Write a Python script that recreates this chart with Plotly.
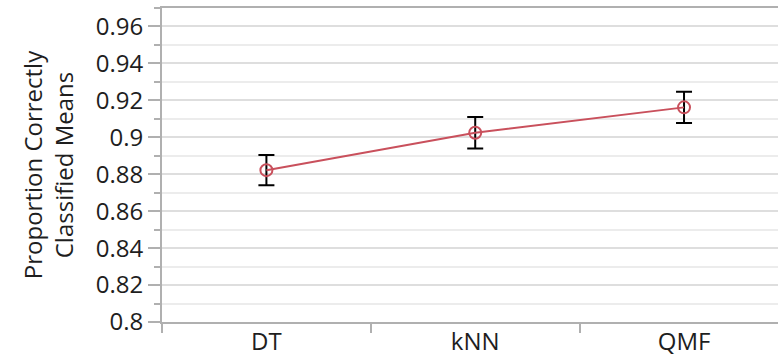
import plotly.graph_objects as go

# Mean proportion correctly classified per method, with error bar half-widths
methods = ["DT", "kNN", "QMF"]
means = [0.8822, 0.9025, 0.9162]
errors = [0.0082, 0.0085, 0.0085]
y_ticks = [0.8, 0.82, 0.84, 0.86, 0.88, 0.9, 0.92, 0.94, 0.96]
y_tick_text = ["0.8", "0.82", "0.84", "0.86", "0.88", "0.9", "0.92", "0.94", "0.96"]

RED = "#c9505c"
FONT = "Open Sans, Noto Sans, sans-serif"
TXT = "#1e1e1e"

fig = go.Figure()
fig.add_trace(go.Scatter(
    x=methods,
    y=means,
    mode="lines+markers",
    line=dict(color=RED, width=2),
    marker=dict(symbol="circle-open", size=12, color=RED, line=dict(width=2, color=RED)),
    error_y=dict(type="data", array=errors, visible=True, color="black",
                 thickness=2, width=8),
    showlegend=False,
))

fig.update_layout(
    width=778, height=358,
    margin=dict(l=162, r=0, t=8, b=36),
    paper_bgcolor="white",
    plot_bgcolor="white",
    font=dict(family=FONT, size=24, color=TXT),
    xaxis=dict(
        range=[-0.5, 2.45],
        tickmode="array", tickvals=[0, 1, 2], ticktext=methods,
        tickson="boundaries",
        ticks="outside", ticklen=9, tickwidth=2, tickcolor="#b0b0b0",
        ticklabelstandoff=-3,
        showline=True, linecolor="#b0b0b0", linewidth=2, mirror=True,
        showgrid=False, zeroline=False,
        tickfont=dict(size=24, family=FONT, color=TXT),
    ),
    yaxis=dict(
        range=[0.8, 0.97],
        tickmode="array", tickvals=y_ticks, ticktext=y_tick_text,
        ticks="outside", ticklen=12, tickwidth=2, tickcolor="#b0b0b0",
        showline=True, linecolor="#b0b0b0", linewidth=2,
        showgrid=True, gridcolor="#dedede", gridwidth=1.5,
        zeroline=False,
        minor=dict(dtick=0.01, tick0=0.8, ticks="outside", ticklen=6, tickwidth=2,
                   tickcolor="#b0b0b0", showgrid=True, gridcolor="#ececec", gridwidth=1.5),
        tickfont=dict(size=24, family=FONT, color=TXT),
        title=dict(text="Proportion Correctly<br>Classified Means",
                   font=dict(size=24, family=FONT, color=TXT), standoff=15),
    ),
)

fig.write_html("out.html")
